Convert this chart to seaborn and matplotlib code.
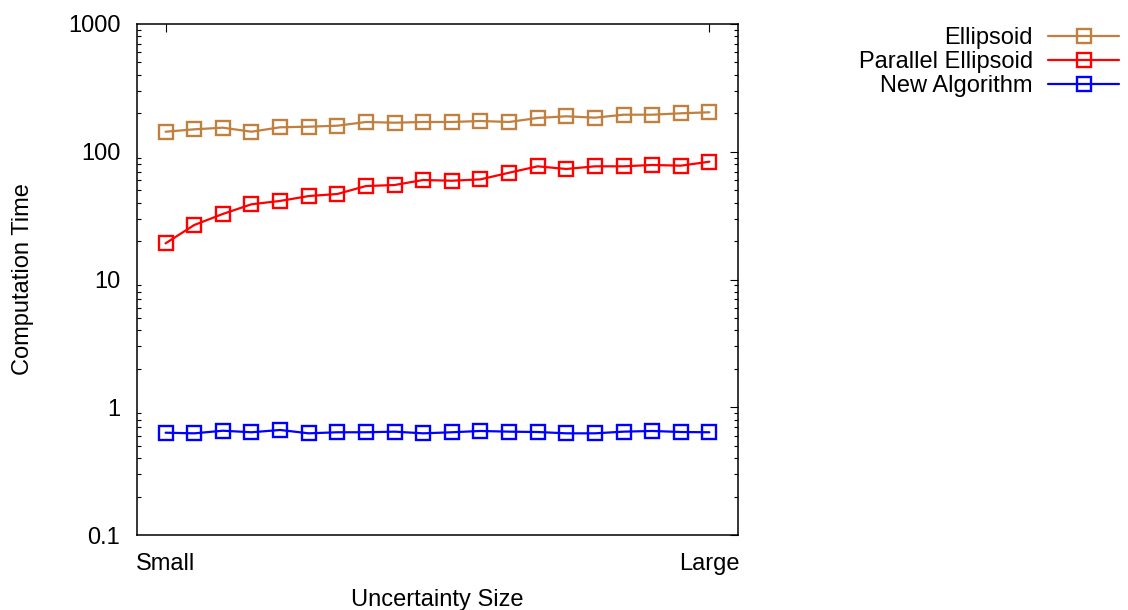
import numpy as np
import pandas as pd
import matplotlib
matplotlib.use("Agg")
import matplotlib.pyplot as plt
import seaborn as sns
from matplotlib.ticker import LogLocator, FixedLocator, NullFormatter

# ---- data ----
steps = list(range(1, 21))
ellipsoid = [143.5, 149.8, 154.3, 143.5, 155.4, 157.1, 159.9, 171.0, 168.8, 171.0,
             171.0, 174.1, 171.0, 183.8, 189.5, 184.8, 195.0, 195.0, 200.0, 203.7]
parallel = [19.2, 26.7, 32.6, 38.8, 41.2, 45.0, 46.7, 53.9, 54.9, 60.1,
            59.3, 60.8, 68.5, 76.9, 73.3, 76.9, 76.9, 78.8, 77.8, 83.6]
new_alg = [0.632, 0.625, 0.655, 0.637, 0.664, 0.625, 0.637, 0.637, 0.644, 0.625,
           0.637, 0.652, 0.644, 0.640, 0.625, 0.625, 0.644, 0.652, 0.640, 0.637]
series_names = ["Ellipsoid", "Parallel Ellipsoid", "New Algorithm"]
series_values = [ellipsoid, parallel, new_alg]
colors = ["#c08040", "#ff0000", "#0000ff"]
x_tick_pos = [1, 20]
x_tick_labels = ["Small", "Large"]
y_ticks = [0.1, 1, 10, 100, 1000]
y_tick_labels = ["0.1", "1", "10", "100", "1000"]

sns.set_theme(style="white")
plt.rcParams["font.family"] = ["Liberation Sans", "DejaVu Sans"]
FS = 17

fig = plt.figure(figsize=(11.28, 6.10), dpi=100)
ax = fig.add_axes([137 / 1128, 1 - 535 / 610, 601 / 1128, 511 / 610])

for name, vals, col in zip(series_names, series_values, colors):
    df = pd.DataFrame({"x": steps, "y": vals})
    sns.lineplot(data=df, x="x", y="y", ax=ax, color=col, marker="s",
                 markersize=10.5, markerfacecolor="none", markeredgecolor=col,
                 markeredgewidth=1.7, linewidth=1.6, label=name)

ax.set_yscale("log")
ax.set_ylim(0.1, 1000)
ax.set_xlim(0, 21)
ax.yaxis.set_major_locator(FixedLocator(y_ticks))
ax.set_yticklabels(y_tick_labels)
ax.yaxis.set_minor_locator(LogLocator(base=10, subs=np.arange(2, 10)))
ax.yaxis.set_minor_formatter(NullFormatter())
ax.set_xticks(x_tick_pos)
ax.set_xticklabels(x_tick_labels)

ax.tick_params(axis="both", which="major", direction="in", length=6, width=0.8,
               color="black", labelsize=FS, labelcolor="black",
               top=True, right=True)
ax.tick_params(axis="y", which="major", pad=12)
ax.tick_params(axis="x", which="major", pad=13)
ax.tick_params(axis="y", which="minor", direction="in", length=3, width=0.8,
               color="black", left=True, right=True)
for sp in ax.spines.values():
    sp.set_color("black")
    sp.set_linewidth(1.1)

ax.set_xlabel("Uncertainty Size", fontsize=FS, color="black")
ax.set_ylabel("Computation Time", fontsize=FS, color="black")
ax.xaxis.set_label_coords(0.5, -0.105)
ax.yaxis.set_label_coords(-0.172, 0.5)

handles, labels = ax.get_legend_handles_labels()
ax.get_legend().remove()
row_y = [38, 62, 86]
for h, l, yc in zip(handles, labels, row_y):
    leg = fig.legend([h], [l], loc="center right",
                     bbox_to_anchor=(1119 / 1128, 1 - yc / 610),
                     frameon=False, markerfirst=False, fontsize=FS,
                     handlelength=3.0, handletextpad=0.65, borderpad=0,
                     borderaxespad=0)
    for t in leg.get_texts():
        t.set_color("black")

fig.savefig("out.png", dpi=100)
